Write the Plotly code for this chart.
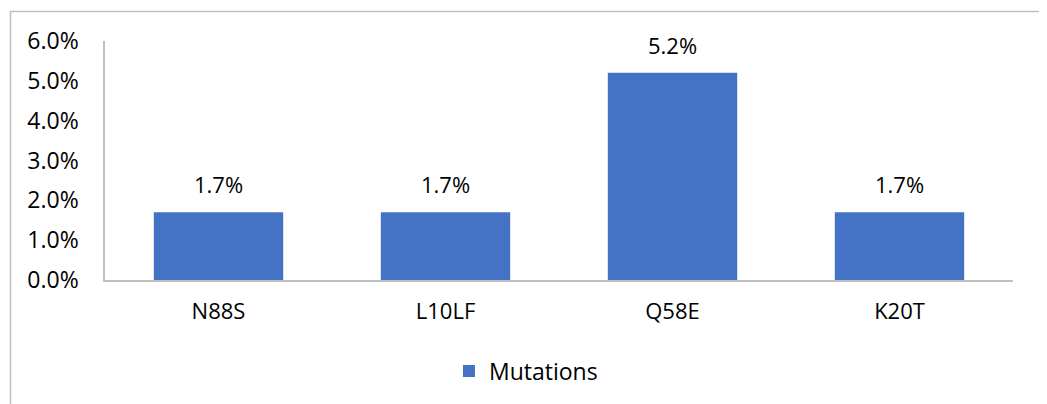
import plotly.graph_objects as go

categories = ["N88S", "L10LF", "Q58E", "K20T"]
values = [0.017, 0.017, 0.052, 0.017]
series_name = "Mutations"
y_ticks = [0.0, 0.01, 0.02, 0.03, 0.04, 0.05, 0.06]

BAR = "#4472C4"
AXIS = "#BFBFBF"
TXT = "#000000"
FONT = "Open Sans"

W, H = 1039, 396  # page has an 8px body offset

fig = go.Figure()
fig.add_trace(go.Bar(x=categories, y=values, name=series_name,
                     marker=dict(color=BAR, line=dict(width=0)),
                     showlegend=True))

for c, v in zip(categories, values):
    fig.add_annotation(x=c, y=v, text=f"{v*100:.1f}%", showarrow=False,
                       yanchor="bottom", yshift=11,
                       font=dict(family=FONT, size=22, color=TXT))

# outer chart border
fig.add_shape(type="rect", xref="paper", yref="paper",
              x0=(10.5 - 105) / 908, x1=(1041.5 - 105) / 908,
              y0=(280 - 420) / 239, y1=(280 - 11.5) / 239,
              line=dict(color=AXIS, width=1.5), fillcolor="rgba(0,0,0,0)",
              layer="below")

fig.update_layout(
    width=W, height=H,
    margin=dict(l=97, r=34, t=33, b=124),
    paper_bgcolor="white", plot_bgcolor="white",
    bargap=0.43,
    font=dict(family=FONT, size=22, color=TXT),
    xaxis=dict(showgrid=False, showline=True, linecolor=AXIS, linewidth=1.5,
               ticks="", tickfont=dict(size=22, family=FONT, color=TXT),
               ticklabelstandoff=11, zeroline=False),
    yaxis=dict(range=[0, 0.06], tickvals=y_ticks, tickformat=".1%",
               showgrid=False, showline=True, linecolor=AXIS, linewidth=1.5,
               ticks="", ticklabelstandoff=20, zeroline=False,
               tickfont=dict(size=23, family=FONT, color=TXT)),
    legend=dict(orientation="h", xref="container", yref="container",
                x=0.4985, xanchor="center", y=0.083, yanchor="middle",
                font=dict(size=23, family=FONT, color=TXT)),
)

fig.write_html("out.html")
